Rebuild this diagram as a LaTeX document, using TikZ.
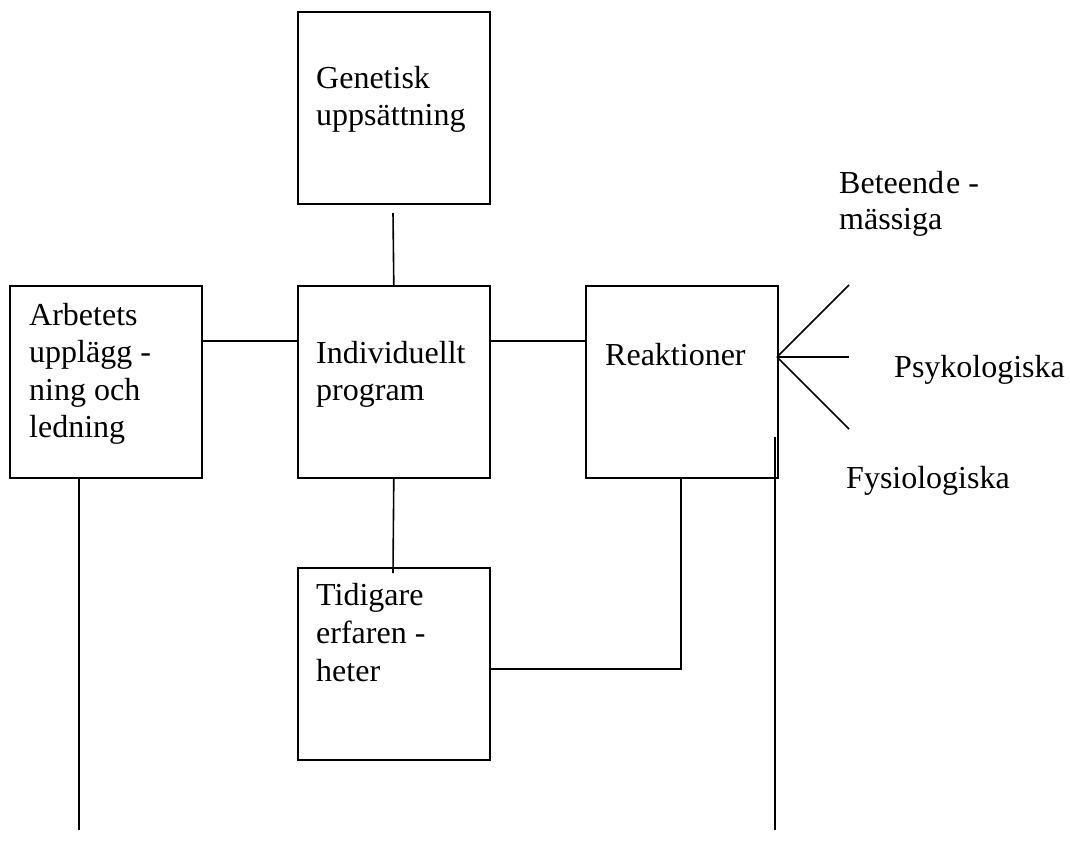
\documentclass[tikz,border=0pt]{standalone}
\usepackage{fontspec}
\setmainfont{Liberation Serif}
\begin{document}
\begin{tikzpicture}[x=1pt,y=-1pt,
  boxnode/.style={draw,line width=1.6pt,minimum width=192pt,minimum height=192pt,inner sep=0pt,anchor=north west},
  txt/.style={anchor=base west,inner sep=0pt,font=\fontsize{32}{37.5}\selectfont},
  conn/.style={line width=1.6pt}]
\useasboundingbox (0,0) rectangle (1070,844);
% boxes
\node[boxnode] (gen) at (297,11) {};
\node[boxnode] (ind) at (297,285) {};
\node[boxnode] (arb) at (9,285) {};
\node[boxnode] (rea) at (585,285) {};
\node[boxnode] (tid) at (297,567) {};
% box texts
\node[txt] (gen1) at (316,88) {Genetisk};
\node[txt] (gen2) at (316,125) {uppsättning};
\node[txt] (arb1) at (29,325) {Arbetets};
\node[txt] (arb2) at (29,362) {upplägg -};
\node[txt] (arb3) at (29,400) {ning och};
\node[txt] (arb4) at (29,437) {ledning};
\node[txt] (ind1) at (316,363) {Individuellt};
\node[txt] (ind2) at (316,400) {program};
\node[txt] (rea1) at (605,365) {Reaktioner};
\node[txt] (tid1) at (316,605) {Tidigare};
\node[txt] (tid2) at (316,643) {erfaren -};
\node[txt] (tid3) at (316,681) {heter};
% outside labels
\node[txt] (bet1) at (839,193) {Beteend\kern2pt e -};
\node[txt] (bet2) at (839,229) {mässiga};
\node[txt] (psy) at (894,377) {Psykologiska};
\node[txt] (fys) at (846,488) {Fysiologiska};
% coordinates
\coordinate (genlow) at (393,213);
\coordinate (tidtop) at (393,573);
\coordinate (fan) at (777,357);
\coordinate (fanA) at (849,285);
\coordinate (fanB) at (849,357);
\coordinate (fanC) at (849,429);
\coordinate (corner) at (681,669);
\coordinate (reabot) at (681,477);
\coordinate (arbend) at (79,830);
\coordinate (reaup) at (775,437);
\coordinate (reaend) at (775,830);
% connectors
\draw[conn] (genlow) -- (ind.north);
\draw[conn] (arb.east |- 0,341) -- (ind.west |- 0,341);
\draw[conn] (ind.east |- 0,341) -- (rea.west |- 0,341);
\draw[conn] (ind.south) -- (tidtop);
\draw[conn] (tid.east |- corner) -- (corner) -- (reabot);
\draw[conn] (fan) -- (fanA);
\draw[conn] (fan) -- (fanB);
\draw[conn] (fan) -- (fanC);
\draw[conn] (arb.south -| arbend) -- (arbend);
\draw[conn] (reaup) -- (reaend);
\end{tikzpicture}
\end{document}
